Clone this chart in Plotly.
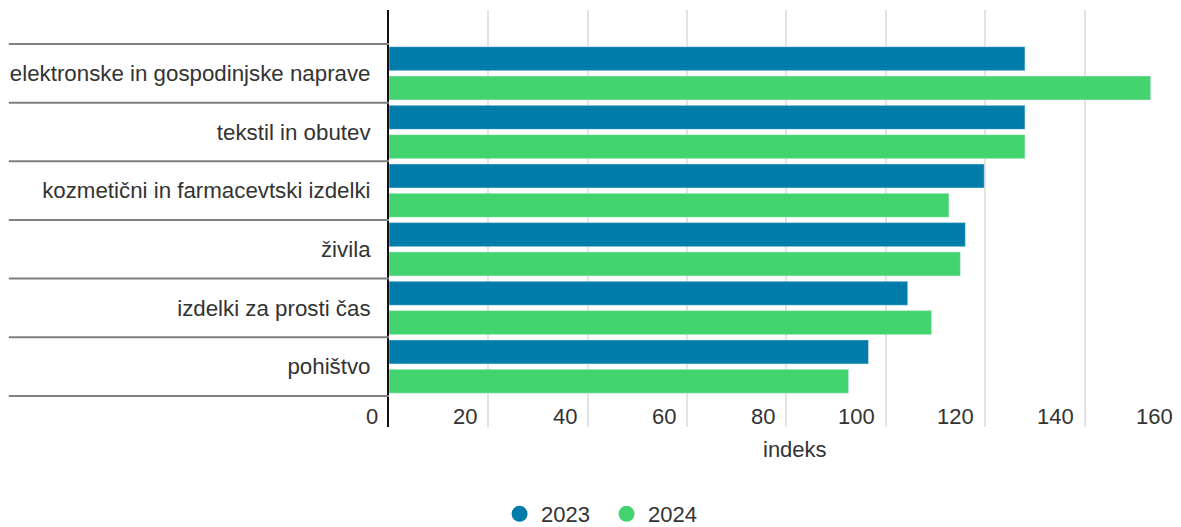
import plotly.graph_objects as go

categories = ['elektronske in gospodinjske naprave', 'tekstil in obutev',
              'kozmetični in farmacevtski izdelki', 'živila',
              'izdelki za prosti čas', 'pohištvo']
values_2023 = [128.0, 128.0, 119.8, 116.0, 104.4, 96.5]
values_2024 = [153.3, 128.0, 112.7, 115.0, 109.2, 92.5]
x_ticks = [0, 20, 40, 60, 80, 100, 120, 140, 160]

col_2023 = '#007CAA'
col_2024 = '#44D46F'
font_fam = 'Liberation Sans, Arial, sans-serif'
x_max = 159.4

fig = go.Figure()
fig.add_trace(go.Bar(y=categories, x=values_2023, orientation='h', name='2023',
                     marker=dict(color=col_2023), showlegend=False))
fig.add_trace(go.Bar(y=categories, x=values_2024, orientation='h', name='2024',
                     marker=dict(color=col_2024), showlegend=False))

# legend entries with round markers
for nm, c in [('2023', col_2023), ('2024', col_2024)]:
    fig.add_trace(go.Scatter(x=[None], y=[None], mode='markers', name=nm,
                             marker=dict(color=c, size=22, symbol='circle')))

# category dividers on the left
n = len(categories)
for k in range(n + 1):
    fig.add_shape(type='line', xref='paper', yref='y', x0=-0.48, x1=0,
                  y0=k - 0.5, y1=k - 0.5, line=dict(color='#7f7f7f', width=2))

# x tick labels sit left of their grid line, inside the plot
for v in x_ticks:
    fig.add_annotation(text=str(v), xref='paper', yref='paper', x=v / x_max, y=0.026,
                       xanchor='right', yanchor='middle', xshift=-9, showarrow=False,
                       font=dict(size=22, color='#333333', family=font_fam))

fig.add_annotation(text='indeks', xref='paper', yref='paper', x=0.5126, y=-0.053,
                   yanchor='middle', showarrow=False,
                   font=dict(size=22, color='#333333', family=font_fam))

# page body adds an 8px offset, so the figure is 16px smaller than the window
fig.update_layout(
    width=1173, height=519,
    margin=dict(l=381, r=0, t=2, b=100),
    plot_bgcolor='white', paper_bgcolor='white',
    barmode='group', bargap=0.0, bargroupgap=0.18,
    font=dict(family=font_fam, size=22, color='#333333'),
    legend=dict(orientation='h', xref='container', yref='container',
                x=0.509, y=0.025, xanchor='center', yanchor='middle',
                itemwidth=33, entrywidth=59,
                font=dict(size=22, color='#333333')),
    xaxis=dict(range=[0, x_max], tickvals=x_ticks, showgrid=True,
               gridcolor='#e3e3e3', gridwidth=2, zeroline=False,
               showticklabels=False, ticks='', automargin=False),
    yaxis=dict(type='category', range=[6.03, -1.08], showgrid=False,
               showline=True, linecolor='#111111', linewidth=2,
               ticks='', ticklabelstandoff=12, automargin=False,
               tickfont=dict(size=22.3, color='#333333')),
)

fig.write_html("out.html")
